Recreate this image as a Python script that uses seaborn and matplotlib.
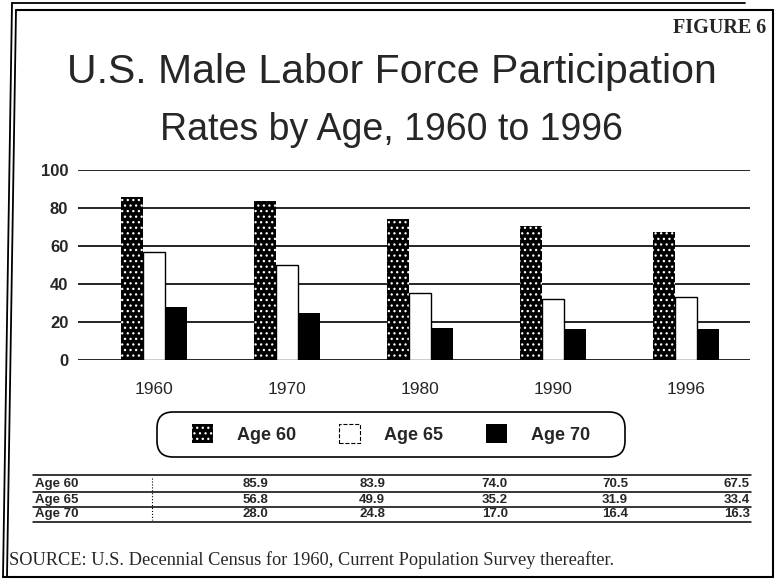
import matplotlib
matplotlib.use("Agg")
import matplotlib.pyplot as plt
import matplotlib.patches as mpatches
from matplotlib.lines import Line2D
import pandas as pd
import seaborn as sns

# chart data
years = ["1960", "1970", "1980", "1990", "1996"]
age60 = [85.9, 83.9, 74.0, 70.5, 67.5]
age65 = [56.8, 49.9, 35.2, 31.9, 33.4]
age70 = [28.0, 24.8, 17.0, 16.4, 16.3]
groups = ["Age 60", "Age 65", "Age 70"]
yticks = [0, 20, 40, 60, 80, 100]

title = "U.S. Male Labor Force Participation"
subtitle = "Rates by Age, 1960 to 1996"
figLabel = "FIGURE 6"
source = "SOURCE: U.S. Decennial Census for 1960, Current Population Survey thereafter."

W, H = 778, 585
sansFont = ["Liberation Sans", "DejaVu Sans"]
serifFont = ["Liberation Serif", "DejaVu Serif"]


def fx(px):
    return px / W


def fy(py):
    return 1 - py / H


def figLine(fig, xs, ys, lw=1.2, **kw):
    fig.add_artist(Line2D([fx(x) for x in xs], [fy(y) for y in ys], transform=fig.transFigure,
                          color="black", lw=lw, **kw))


sns.set_theme(style="white")
plt.rcParams["font.family"] = sansFont
plt.rcParams["hatch.linewidth"] = 0.9

df = pd.DataFrame({
    "year": years * 3,
    "group": [g for g in groups for _ in years],
    "value": age60 + age65 + age70,
})

fig = plt.figure(figsize=(W / 100, H / 100), dpi=100, facecolor="white")
ax = fig.add_axes([fx(78), fy(360), fx(750) - fx(78), fy(170) - fy(360)])

sns.barplot(data=df, x="year", y="value", hue="group", hue_order=groups, order=years,
            palette=["black", "white", "black"], width=0.5, gap=0, legend=False, ax=ax,
            zorder=3, saturation=1)

# per-series styling
barStyles = [
    dict(facecolor="black", edgecolor="white", hatch="...", linewidth=0),
    dict(facecolor="white", edgecolor="black", hatch=None, linewidth=1.0),
    dict(facecolor="black", edgecolor="black", hatch=None, linewidth=0),
]
for container, style in zip(ax.containers, barStyles):
    for bar in container:
        bar.set_facecolor(style["facecolor"])
        bar.set_edgecolor(style["edgecolor"])
        bar.set_linewidth(style["linewidth"])
        if style["hatch"]:
            bar.set_hatch(style["hatch"])

ax.set_ylim(0, 100)
ax.set_xlim(-0.571, 4.48)
ax.set_yticks(yticks)
ax.set_yticklabels([str(t) for t in yticks], fontsize=12, fontweight="bold")
ax.set_xticks(range(len(years)))
ax.set_xticklabels(years, fontsize=12.5)
ax.yaxis.grid(True, color="black", lw=1.2, zorder=0)
ax.set_axisbelow(True)
ax.set_xlabel("")
ax.set_ylabel("")
for s in ax.spines.values():
    s.set_visible(False)
ax.tick_params(axis="y", length=0, pad=7)
ax.tick_params(axis="x", length=0, pad=16)

# titles
fig.text(fx(392), fy(83), title, ha="center", va="baseline", fontsize=29.5)
fig.text(fx(391), fy(140), subtitle, ha="center", va="baseline", fontsize=27)
fig.text(fx(766), fy(33), figLabel, ha="right", va="baseline", fontsize=14.5,
         fontweight="bold", family=serifFont)

# legend
handles = [mpatches.Patch(**barStyles[0]),
           mpatches.Patch(facecolor="white", edgecolor="black", linewidth=0.8, linestyle="--"),
           mpatches.Patch(**barStyles[2])]
leg = fig.legend(handles, groups, loc="center", bbox_to_anchor=(fx(391), fy(434)), ncol=3,
                 frameon=False, prop={"size": 13, "weight": "bold", "family": sansFont},
                 handlelength=1.17, handleheight=1.2, handletextpad=1.3, columnspacing=2.4)
box = mpatches.FancyBboxPatch((1.57, (H - 457) / 100), 4.68, 0.45,
                              boxstyle="round,pad=0,rounding_size=0.16",
                              transform=fig.dpi_scale_trans, facecolor="none",
                              edgecolor="black", lw=1.2)
fig.add_artist(box)

# data table under the chart
tableRows = [age60, age65, age70]
rowY = [484, 500, 514]
colX = [268, 385, 508, 628, 750]
for y in [475, 492, 507, 522]:
    figLine(fig, [33, 751], [y, y], lw=1.1)
figLine(fig, [152, 152], [478, 520], lw=0.8, linestyle=":")
for label, vals, y in zip(groups, tableRows, rowY):
    fig.text(fx(35), fy(y), label, ha="left", va="center", fontsize=9.5, fontweight="bold")
    for x, v in zip(colX, vals):
        fig.text(fx(x), fy(y), f"{v:.1f}", ha="right", va="center", fontsize=9.5,
                 fontweight="bold")

fig.text(fx(9), fy(560), source, ha="left", va="center", fontsize=13.2, family=serifFont)

# outer frame
figLine(fig, [12, 3], [3, 577], lw=1.3)
figLine(fig, [16, 7], [10, 577], lw=1.3)
figLine(fig, [12, 745], [3, 3], lw=1.3)
figLine(fig, [16, 773], [10, 10], lw=1.5)
figLine(fig, [773, 773], [10, 577], lw=1.5)
figLine(fig, [3, 773], [577, 577], lw=1.5)

fig.savefig("out.png", dpi=100, facecolor="white")
